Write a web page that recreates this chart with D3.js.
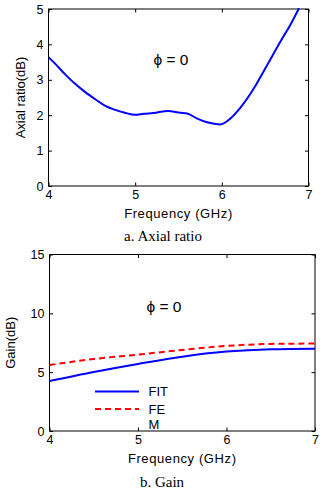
<!DOCTYPE html>
<html><head><meta charset="utf-8">
<script src="https://cdn.jsdelivr.net/npm/d3@7"></script>
<style>body{margin:0;background:#fff}svg{display:block}</style>
</head><body>
<script>
const freqTicks = [4,5,6,7];
const arTicks = [0,1,2,3,4,5];
const gainTicks = [0,5,10,15];
const arFreq = [4.0,4.07,4.19,4.30,4.42,4.54,4.65,4.77,4.88,5.0,5.1,5.21,5.38,5.52,5.60,5.71,5.83,5.98,6.10,6.21,6.37,6.48,6.60,6.71,6.79,6.89];
const arVal  = [3.64,3.47,3.16,2.90,2.66,2.45,2.27,2.15,2.07,2.01,2.04,2.06,2.12,2.07,2.05,1.91,1.80,1.74,1.91,2.20,2.76,3.23,3.75,4.22,4.55,5.02];
const gainFreq = [4.0,4.5,5.0,5.5,6.0,6.5,7.0];
const fitVal = [4.25,5.02,5.70,6.32,6.75,6.95,7.0];
const feVal  = [5.61,6.12,6.49,6.89,7.23,7.40,7.43];
const legendLabels = ["FIT","FE","M"];

const svg = d3.select("body").append("svg").attr("width",328).attr("height",492);
const font = "Liberation Sans, Arial, sans-serif";

function panel(o){
  const x = d3.scaleLinear().domain([4,7]).range([o.x0,o.x1]);
  const y = d3.scaleLinear().domain(o.ydom).range([o.y1,o.y0]);
  const g = svg.append("g");
  g.append("rect").attr("x",o.x0).attr("y",o.y0).attr("width",o.x1-o.x0).attr("height",o.y1-o.y0)
   .attr("fill","none").attr("stroke","#000").attr("stroke-width",1);
  const tl=3.5;
  g.append("g").attr("transform",`translate(0,${o.y1})`)
   .call(d3.axisBottom(x).tickValues(freqTicks).tickSize(-tl).tickPadding(6).tickFormat(d3.format("d")))
   .call(a=>{a.select(".domain").remove();a.selectAll("text").attr("font-size",12.5).attr("font-family",font).attr("dy","0.71em").attr("y",4);});
  g.append("g").attr("transform",`translate(0,${o.y0})`)
   .call(d3.axisTop(x).tickValues(freqTicks).tickSize(-tl).tickFormat(""))
   .call(a=>a.select(".domain").remove());
  g.append("g").attr("transform",`translate(${o.x0},0)`)
   .call(d3.axisLeft(y).tickValues(o.yticks).tickSize(-tl).tickPadding(5).tickFormat(d3.format("d")))
   .call(a=>{a.select(".domain").remove();a.selectAll("text").attr("font-size",12.5).attr("font-family",font);});
  g.append("g").attr("transform",`translate(${o.x1},0)`)
   .call(d3.axisRight(y).tickValues(o.yticks).tickSize(-tl).tickFormat(""))
   .call(a=>a.select(".domain").remove());
  g.selectAll(".tick line").attr("stroke","#000");
  g.selectAll(".tick text").attr("fill","#000");
  g.append("text").attr("x",(o.x0+o.x1)/2).attr("y",o.y1+32).attr("text-anchor","middle")
   .attr("font-family",font).attr("font-size",13).attr("letter-spacing",0.6).text("Frequency (GHz)");
  g.append("text").attr("transform",`translate(${o.ylx},${(o.y0+o.y1)/2}) rotate(-90)`).attr("text-anchor","middle")
   .attr("font-family",font).attr("font-size",13).text(o.ylabel);
  g.append("text").attr("x",o.capx).attr("y",o.capy).attr("text-anchor","middle")
   .attr("font-family","Liberation Serif, Times New Roman, serif").attr("font-size",15).text(o.caption);
  g.append("text").attr("x",o.phix).attr("y",o.phiy).attr("text-anchor","middle")
   .attr("font-family",font).attr("font-size",15.5).text("ϕ = 0");
  const clipId = "clip"+o.id;
  g.append("clipPath").attr("id",clipId).append("rect").attr("x",o.x0).attr("y",o.y0-1).attr("width",o.x1-o.x0).attr("height",o.y1-o.y0+1);
  return {x,y,g,clipId};
}

// Panel a
const A = panel({id:"a",x0:48.5,x1:308.5,y0:9,y1:186,ydom:[0,5],yticks:arTicks,ylabel:"Axial ratio(dB)",ylx:25,
  caption:"a. Axial ratio",capx:163,capy:241,phix:171,phiy:65});
const lineA = d3.line().x((d,i)=>A.x(arFreq[i])).y(d=>A.y(d)).curve(d3.curveMonotoneX);
A.g.append("path").attr("d",lineA(arVal)).attr("fill","none").attr("stroke","#0000ff").attr("stroke-width",2)
  .attr("clip-path",`url(#${A.clipId})`);

// Panel b
const B = panel({id:"b",x0:49.5,x1:315,y0:254.5,y1:431,ydom:[0,15],yticks:gainTicks,ylabel:"Gain(dB)",ylx:15,
  caption:"b. Gain",capx:162,capy:487,phix:164,phiy:312});
const lineB = d3.line().x((d,i)=>B.x(gainFreq[i])).y(d=>B.y(d)).curve(d3.curveMonotoneX);
B.g.append("path").attr("d",lineB(fitVal)).attr("fill","none").attr("stroke","#0000ff").attr("stroke-width",2);
B.g.append("path").attr("d",lineB(feVal)).attr("fill","none").attr("stroke","#ff0000").attr("stroke-width",2).attr("stroke-dasharray","6,4");
const legY = [391.5,409,424];
const legStroke = [["#0000ff",null],["#ff0000","6,4"],null];
legendLabels.forEach((lab,i)=>{
  if(legStroke[i]){
    B.g.append("line").attr("x1",95).attr("x2",139).attr("y1",legY[i]).attr("y2",legY[i])
     .attr("stroke",legStroke[i][0]).attr("stroke-width",2).attr("stroke-dasharray",legStroke[i][1]);
  }
  B.g.append("text").attr("x",148.5).attr("y",legY[i]+4.5).attr("font-family",font).attr("font-size",13).text(lab);
});
</script>
</body></html>
